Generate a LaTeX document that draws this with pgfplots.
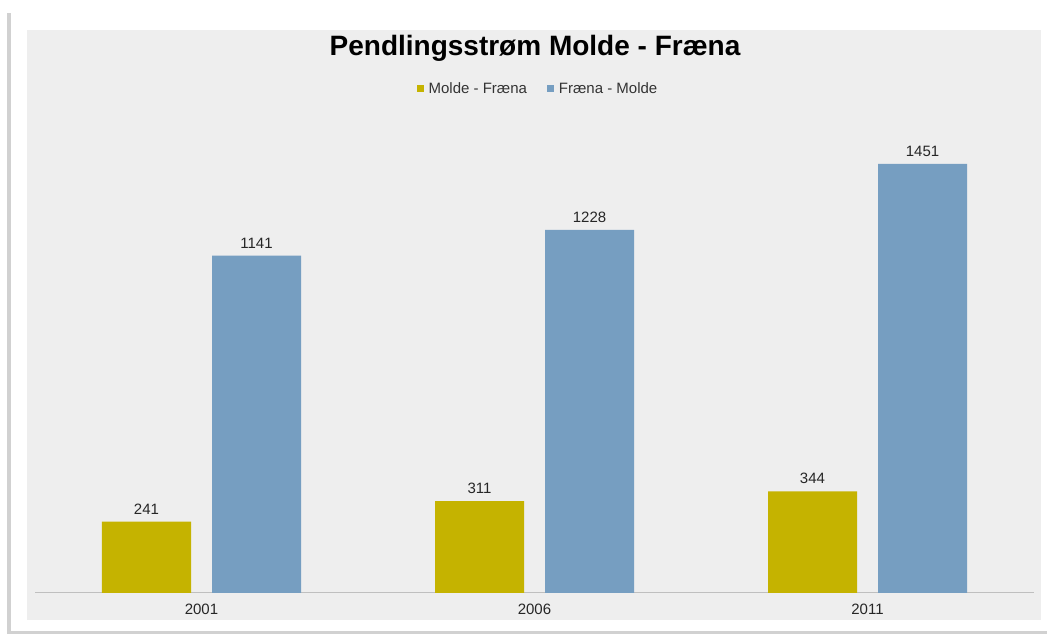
\documentclass[border=0pt]{standalone}
\usepackage{pgfplots}
\pgfplotsset{compat=1.18}
\usepackage{fontspec}
\setmainfont{Liberation Sans}
\definecolor{olive}{HTML}{C5B300}
\definecolor{steel}{HTML}{769EC1}
\definecolor{panel}{HTML}{EEEEEE}
\begin{document}
\begin{tikzpicture}[x=1bp,y=1bp]
% pixel (px,py) -> (px-35, 593-py)
\useasboundingbox (-35,593) rectangle (1012,-42);
\fill[black!18] (-28,580) rectangle (1012,-41);
\fill[white] (-24,583) rectangle (1012,-38);
\fill[panel] (-8,563) rectangle (1006,-27);
\node[font=\fontsize{28bp}{32bp}\selectfont\bfseries] at (500,545) {Pendlingsstrøm Molde - Fræna};
\begin{axis}[
  at={(0,0)}, anchor=south west,
  scale only axis, width=999bp, height=429bp,
  xmin=-0.5, xmax=2.5, ymin=0, ymax=1451,
  clip=false,
  ybar, bar width=89bp,
  axis y line=none,
  axis x line*=bottom,
  x axis line style={-, draw=black!25, line width=1bp},
  xtick={0,1,2}, xticklabels={2001,2006,2011},
  major tick length=0pt,
  xticklabel style={font=\fontsize{15bp}{17bp}\selectfont, text=black!85, yshift=-8bp},
  /pgf/number format/.cd, 1000 sep={}, assume math mode=true, /pgfplots/.cd,
  nodes near coords,
  every node near coord/.append style={font=\fontsize{15bp}{17bp}\selectfont, text=black!85, yshift=4bp},
  legend columns=2,
  legend style={at={(0.5035,1.175)}, anchor=center, draw=none, fill=none,
    font=\fontsize{15bp}{17bp}\selectfont, text=black!80,
    /tikz/every even column/.append style={column sep=18bp}},
  legend image code/.code={\fill[#1] (0bp,-3.5bp) rectangle (7bp,3.5bp);},
  legend cell align=left,
]
\addplot[fill=olive, draw=none, bar shift=-55bp] coordinates {(0,241) (1,311) (2,344)};
\addplot[fill=steel, draw=none, bar shift=55bp] coordinates {(0,1141) (1,1228) (2,1451)};
\legend{\hspace{3bp}Molde - Fræna, \hspace{3bp}Fræna - Molde}
\end{axis}
\end{tikzpicture}
\end{document}
